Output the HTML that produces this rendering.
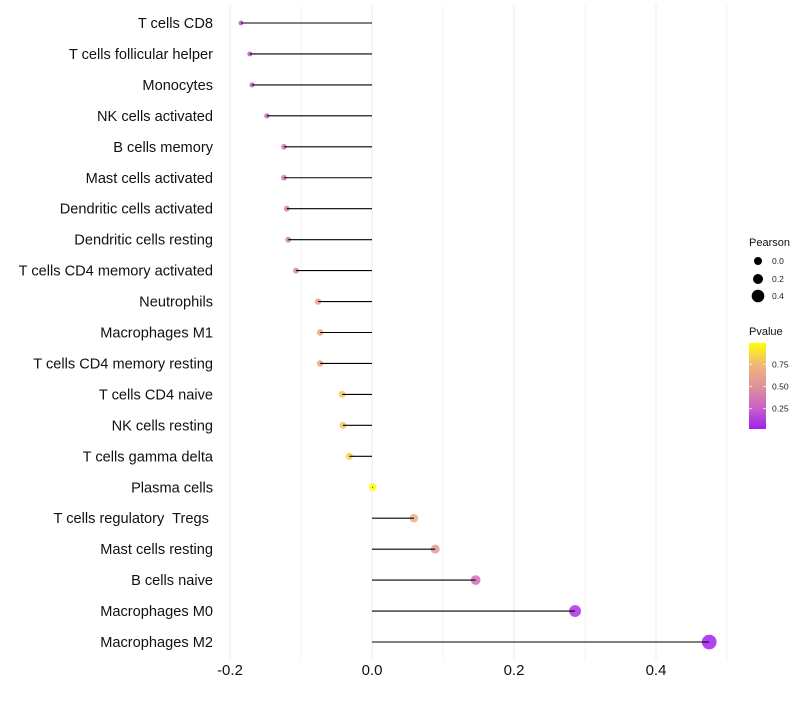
<!DOCTYPE html>
<html><head><meta charset="utf-8"><style>
body{margin:0;background:#fff;font-family:"Liberation Sans",sans-serif;}
svg text{font-family:"Liberation Sans",sans-serif;white-space:pre;}
</style></head><body>
<svg id="chart" width="800" height="700"></svg>
<script>
const categories=["T cells CD8","T cells follicular helper","Monocytes","NK cells activated","B cells memory","Mast cells activated","Dendritic cells activated","Dendritic cells resting","T cells CD4 memory activated","Neutrophils","Macrophages M1","T cells CD4 memory resting","T cells CD4 naive","NK cells resting","T cells gamma delta","Plasma cells","T cells regulatory  Tregs ","Mast cells resting","B cells naive","Macrophages M0","Macrophages M2"];
const pearson=[-0.1845,-0.172,-0.169,-0.148,-0.124,-0.124,-0.120,-0.118,-0.107,-0.076,-0.073,-0.073,-0.042,-0.041,-0.032,0.001,0.059,0.089,0.146,0.286,0.475];
const pvalues=[0.2,0.22,0.23,0.3,0.37,0.37,0.4,0.4,0.45,0.62,0.63,0.63,0.8,0.8,0.85,0.99,0.68,0.55,0.33,0.08,0.03];
const xTicks=[-0.2,0,0.2,0.4];
const xTickLabels=["-0.2","0.0","0.2","0.4"];
const xMinor=[-0.1,0.1,0.3,0.5];

const NS="http://www.w3.org/2000/svg";
const svg=document.getElementById('chart');
function X(v){return 372+v*710;}
function Y(i){return 23+i*30.95;}
function R(v){return Math.max(1.5,3.8+7.5*v);}
function hex(h){return [parseInt(h.slice(1,3),16),parseInt(h.slice(3,5),16),parseInt(h.slice(5,7),16)];}
const stops=[[0.02,'#A020F0'],[0.25,'#C860C8'],[0.5,'#E0909A'],[0.75,'#F0B878'],[0.99,'#FFFF00']];
function col(p){
  p=Math.max(0.02,Math.min(0.99,p));
  for(let k=0;k<stops.length-1;k++){
    const [a,ca]=stops[k],[b,cb]=stops[k+1];
    if(p<=b){const t=(p-a)/(b-a);const A=hex(ca),B=hex(cb);
      return 'rgb('+A.map((c,j)=>Math.round(c+(B[j]-c)*t)).join(',')+')';}
  }
  return '#FFFF00';
}
function el(tag,attrs,parent){const e=document.createElementNS(NS,tag);for(const k in attrs)e.setAttribute(k,attrs[k]);(parent||svg).appendChild(e);return e;}

xMinor.forEach(v=>{const l=el('line',{x1:X(v),x2:X(v),y1:5,y2:660,stroke:'#f3f3f3','stroke-width':1});

});
xTicks.forEach((v,i)=>{const l=el('line',{x1:X(v),x2:X(v),y1:5,y2:660,stroke:'#ebebeb','stroke-width':1});


const t=el('text',{x:X(v),y:675,'text-anchor':'middle','font-size':15,fill:'#111'});
t.textContent=xTickLabels[i];

});

categories.forEach((c,i)=>{
  const y=Y(i);
  const t=el('text',{x:213,y:y+5,'text-anchor':'end','font-size':14.6,fill:'#111'});
  t.textContent=c;
  
  
  const p=el('circle',{cx:X(pearson[i]),cy:y,r:R(pearson[i]),fill:col(pvalues[i]),'fill-opacity':0.85});
  
  
  const s=el('line',{x1:X(0),x2:X(pearson[i]),y1:y,y2:y,stroke:'#000','stroke-width':1.1});
  
  
});

const g=el('g',{});


let t=el('text',{x:749,y:246,'font-size':11,fill:'#111'},g);t.textContent='Pearson';
[[0,'0.0',261,4],[0.2,'0.2',279,5],[0.4,'0.4',296,6.3]].forEach(d=>{
  const c=el('circle',{cx:758,cy:d[2],r:d[3],fill:'#000'},g);
  
  
  const tt=el('text',{x:772,y:d[2]+3,'font-size':8.5,fill:'#222'},g);tt.textContent=d[1];
});
t=el('text',{x:749,y:335,'font-size':11,fill:'#111'},g);t.textContent='Pvalue';
const defs=el('defs',{});
const lg=el('linearGradient',{id:'pg',x1:0,y1:1,x2:0,y2:0},defs);
stops.forEach(s=>el('stop',{offset:(s[0]-0.02)/0.97,'stop-color':s[1]},lg));
const bar=el('rect',{x:749,y:343,width:17,height:86,fill:'url(#pg)'},g);


[[0.75,'0.75'],[0.5,'0.50'],[0.25,'0.25']].forEach(d=>{
  const yy=429-(d[0]-0.02)/0.97*86;
  el('line',{x1:749,x2:752,y1:yy,y2:yy,stroke:'#fff','stroke-opacity':0.7},g);
  el('line',{x1:763,x2:766,y1:yy,y2:yy,stroke:'#fff','stroke-opacity':0.7},g);
  const tt=el('text',{x:772,y:yy+3,'font-size':8.5,fill:'#222'},g);tt.textContent=d[1];
});
</script>
</body></html>
